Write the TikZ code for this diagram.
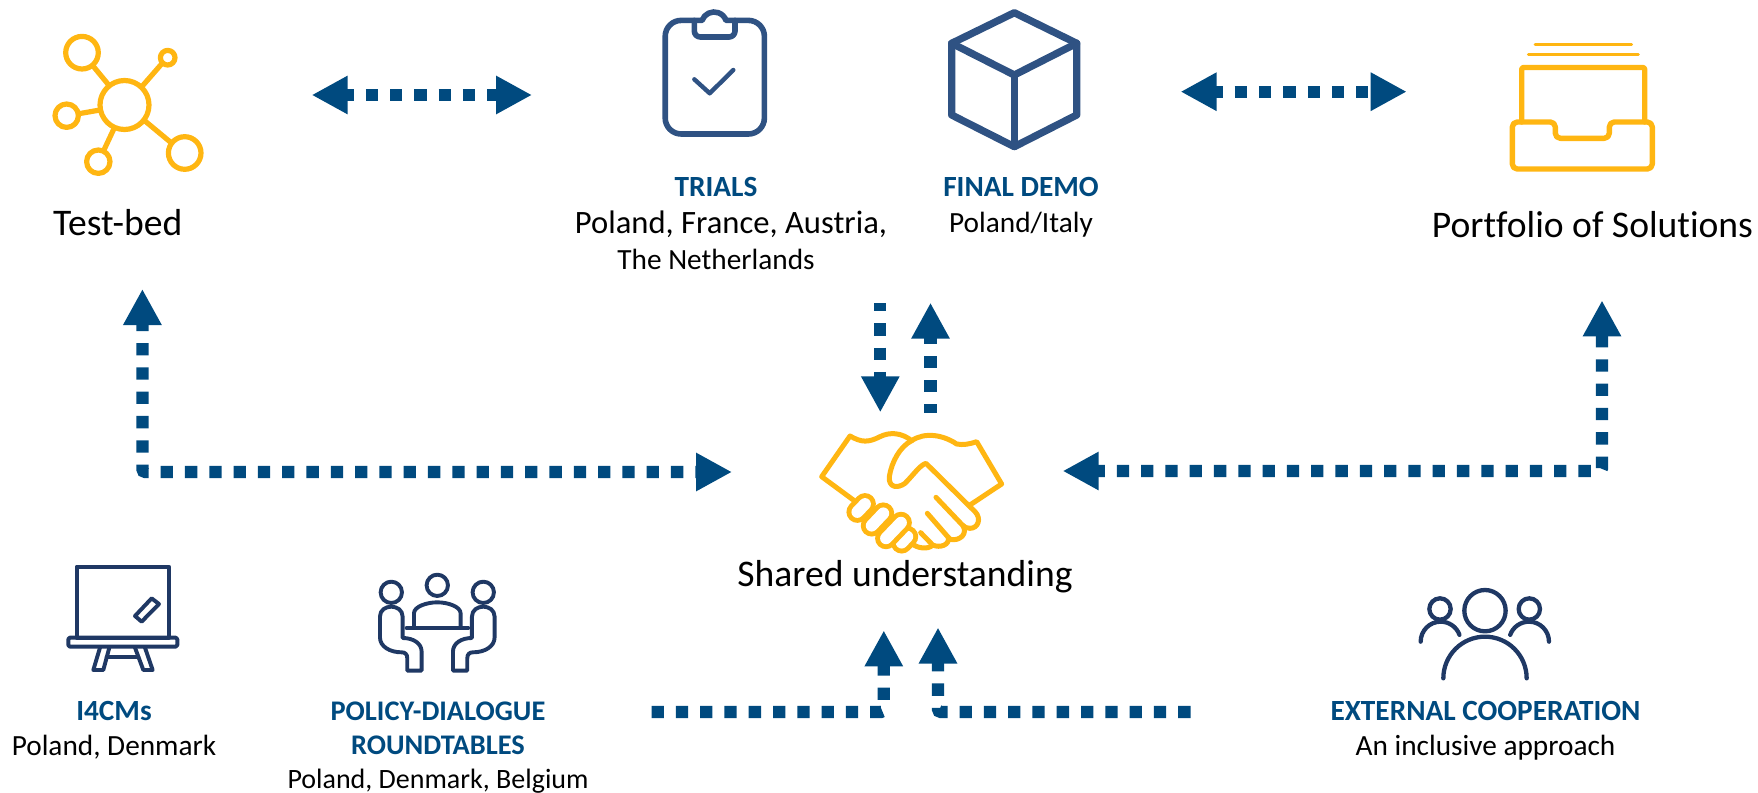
\documentclass[tikz,border=0pt]{standalone}
\usepackage{fontspec}
\setmainfont{Carlito}[Ligatures=CommonOff]
\usetikzlibrary{arrows.meta}
\definecolor{flow}{HTML}{004A7F}
\definecolor{gold}{HTML}{FFB612}
\definecolor{slate}{HTML}{2F5283}
\definecolor{navy}{HTML}{1F3864}
\tikzset{
  x=1bp,y=-1bp,
  flowline/.style={draw=flow,line width=12.3bp,dash pattern=on 12.3bp off 12bp,dash phase=4bp,rounded corners=3bp},
  flowplain/.style={draw=flow,line width=12.3bp,dash pattern=on 12.3bp off 12bp,rounded corners=3bp},
  bigtip/.tip={Triangle[length=36bp,width=36bp,color=flow]},
  icongold/.style={draw=gold,line width=5.2bp,line join=round,line cap=round},
  iconslate/.style={draw=slate,line width=5.6bp,line join=round,line cap=round},
  iconnavy/.style={draw=navy,line width=3.9bp,line join=round,line cap=round},
  zoomed/.style={x=0.3333bp,y=-0.3333bp},
  lab/.style={inner sep=0pt,align=center,anchor=north,font=\fontsize{29.3bp}{36bp}\selectfont},
  labtight/.style={inner sep=0pt,align=center,anchor=north,font=\fontsize{28.4bp}{34bp}\selectfont},
  lablow/.style={inner sep=0pt,align=center,anchor=north,font=\fontsize{29.3bp}{35bp}\selectfont},
  biglab/.style={inner sep=0pt,anchor=center,font=\fontsize{37.6bp}{43bp}\selectfont},
}
\newcommand{\headline}[1]{\textcolor{flow}{\textbf{#1}}}
\begin{document}
\begin{tikzpicture}
\useasboundingbox (0,0) rectangle (1758,793);
% --- connector ends
\coordinate (a1) at (311.7,95);   \coordinate (a2) at (532,95);
\coordinate (b1) at (1180.6,91.7);\coordinate (b2) at (1406.7,91.7);
\coordinate (c1) at (142.4,289);  \coordinate (c2) at (142.4,472); \coordinate (c3) at (732,472);
\coordinate (d1) at (1062.7,471); \coordinate (d2) at (1602,471);  \coordinate (d3) at (1602,300.4);
\coordinate (e1) at (880.3,303);  \coordinate (e2) at (880.3,412.3);
\coordinate (f1) at (930.5,412.5);\coordinate (f2) at (930.5,302.7);
\coordinate (g1) at (651.5,712);  \coordinate (g2) at (883.8,712); \coordinate (g3) at (883.8,630.4);
\coordinate (h1) at (1190.5,712); \coordinate (h2) at (938,712);   \coordinate (h3) at (938,627.5);
% --- connectors
\draw[flowline,{bigtip}-{bigtip}] (a1) -- (a2);
\draw[flowline,{bigtip}-{bigtip}] (b1) -- (b2);
\draw[flowline,{bigtip}-{bigtip}] (c1) -- (c2) -- (c3);
\draw[flowline,{bigtip}-{bigtip}] (d1) -- (d2) -- (d3);
\draw[flowline,-{bigtip}] (e1) -- (e2);
\draw[flowline,-{bigtip}] (f1) -- (f2);
\draw[flowplain,-{bigtip}] (g1) -- (g2) -- (g3);
\draw[flowplain,-{bigtip}] (h1) -- (h2) -- (h3);
% --- network icon
\begin{scope}[icongold]
\draw (124.5,105) circle (24.5);
\draw (82,52.7) circle (16.3);
\draw (167.7,57.7) circle (7.3);
\draw (66.7,115.7) circle (11.7);
\draw (98.3,161.7) circle (11.7);
\draw (184.7,153) circle (16.3);
\draw[line cap=butt] (92.5,65.3) -- (108.7,85);
\draw[line cap=butt] (162,63.5) -- (141.5,87);
\draw[line cap=butt] (78.3,113.8) -- (100,110);
\draw[line cap=butt] (103.5,151) -- (114.5,127.5);
\draw[line cap=butt] (171.5,143) -- (145,121);
\end{scope}
% --- clipboard
\begin{scope}[iconslate]
\draw (665.2,36.4) arc[start angle=180,end angle=270,radius=16] -- (702,20.4) arc[start angle=200,end angle=340,radius=12.8] -- (748.4,20.4) arc[start angle=270,end angle=360,radius=16] -- (764.4,118) arc[start angle=0,end angle=90,radius=16] -- (681.2,134) arc[start angle=90,end angle=180,radius=16] -- cycle;
\draw (694.3,20.4) -- (694.3,31) arc[start angle=180,end angle=90,radius=6] -- (729,37) arc[start angle=90,end angle=0,radius=6] -- (735,20.4);
\draw[line width=4.4bp] (694.3,79.3) -- (709.7,93.3) -- (733.3,70);
\end{scope}
% --- cube
\begin{scope}[iconslate,line width=7.3bp]
\draw (1014.3,12.7) -- (1076.7,43.3) -- (1076.7,115) -- (1014.3,146.7) -- (951.7,115) -- (951.7,43.3) -- cycle;
\draw (951.7,43.3) -- (1014.3,75) -- (1076.7,43.3);
\draw (1014.3,75) -- (1014.3,146.7);
\end{scope}
% --- tray
\begin{scope}[icongold,line width=5.4bp]
\draw[line width=3bp] (1535,45) -- (1631.7,45);
\draw[line width=3bp] (1528.3,55) -- (1638.3,55);
\draw[rounded corners=2bp] (1521.7,122) -- (1521.7,67.5) -- (1644.7,67.5) -- (1644.7,122);
\draw[rounded corners=5bp] (1512.3,122) -- (1555.3,122) -- (1555.3,138.3) -- (1609.3,138.3) -- (1609.3,122) -- (1652.3,122) -- (1652.3,169) -- (1512.3,169) -- cycle;
\end{scope}
% --- handshake
\begin{scope}[shift={(800,420)},zoomed,icongold,line width=5bp]
\draw (160,240) -- (65,170) -- (150,48) .. controls (185,68) and (205,68) .. (240,50) .. controls (270,35) and (305,38) .. (335,62);
\draw (335,62) .. controls (300,80) and (275,125) .. (268,170) .. controls (265,205) and (295,205) .. (315,190) .. controls (340,165) and (360,135) .. (378,130) -- (525,275) .. controls (545,295) and (535,325) .. (510,325) .. controls (500,325) and (495,322) .. (488,316);
\draw (335,62) .. controls (375,35) and (430,45) .. (470,72) .. controls (490,76) and (510,72) .. (530,65) -- (605,192) -- (510,255);
\draw (408,232) -- (488,316) .. controls (505,340) and (480,365) .. (450,358) -- (382,280);
\draw (445,352) .. controls (450,375) and (420,385) .. (398,375) -- (362,338);
\draw (398,375) .. controls (385,390) and (350,385) .. (335,370);
\foreach \xa/\ya/\xb/\yb in {305/368/322/350,258/355/303/308,215/317/250/280,172/276/195/252} {
  \draw[line width=21.8bp] (\xa,\ya) -- (\xb,\yb);
  \draw[draw=white,line width=11.8bp] (\xa,\ya) -- (\xb,\yb);
}
\end{scope}
% --- board and roundtable
\begin{scope}[shift={(50,550)},zoomed,iconnavy]
\draw (80,50) rectangle (357,263);
\draw[rounded corners=1.5bp] (55,263) rectangle (382,290);
\draw (150,293) -- (130,360) -- (160,360) -- (178,293);
\draw (255,293) -- (280,360) -- (308,360) -- (285,293);
\draw (170,322) -- (265,322);
\draw (255,198) -- (305,145) -- (327,162) -- (275,215) -- cycle;
\draw (1024,127) circle[radius=32];
\draw (1162,106) circle[radius=32];
\draw (1300,127) circle[radius=32];
\draw (1092,232) -- (1092,190) .. controls (1092,170) and (1130,157) .. (1162,157) .. controls (1194,157) and (1232,170) .. (1232,190) -- (1232,232);
\draw (1070,234) -- (1255,234);
\draw (1058,264) -- (1058,200) .. controls (1058,160) and (990,160) .. (990,200) -- (990,262) .. controls (990,290) and (1020,307) .. (1055,307) .. controls (1065,307) and (1072,312) .. (1072,325) -- (1072,362) -- (1115,362) -- (1115,305) .. controls (1115,280) and (1090,264) .. (1058,264);
\draw (1266,264) -- (1266,200) .. controls (1266,160) and (1334,160) .. (1334,200) -- (1334,262) .. controls (1334,290) and (1304,307) .. (1269,307) .. controls (1259,307) and (1252,312) .. (1252,325) -- (1252,362) -- (1209,362) -- (1209,305) .. controls (1209,280) and (1234,264) .. (1266,264);
\end{scope}
% --- people
\begin{scope}[shift={(1400,575)},zoomed,iconnavy,line width=4.3bp]
\draw (255,107) circle[radius=62];
\draw (120,102) circle[radius=32];
\draw (388,102) circle[radius=32];
\draw (130,310) arc[start angle=180,end angle=360,radius=125];
\draw (62,200) arc[start angle=180,end angle=340,radius=60];
\draw (447,200) arc[start angle=360,end angle=200,radius=60];
\end{scope}
% --- labels
\node[biglab] (testbed) at (117.7,222.5) {Test-bed};
\node[biglab] (portfolio) at (1592.5,225) {Portfolio of Solutions};
\node[biglab] (shared) at (905,577) {Shared understanding};
\node[lab] (trials) at (716,177.5) {\headline{TRIALS}};
\node[lab,font=\fontsize{32.6bp}{36bp}\selectfont] (trialsplaces) at (731,210.5) {Poland, France, Austria,};
\node[lab] (trialsnl) at (716,248.5) {The Netherlands};
\node[lab] (demo) at (1021,177.5) {\headline{FINAL DEMO}\\Poland/Italy};
\node[lablow] (i4) at (114,701) {\headline{I4CMs}\\Poland, Denmark};
\node[labtight] (policy) at (438,701.5) {\headline{POLICY-DIALOGUE}\\\headline{ROUNDTABLES}\\\fontsize{28bp}{34bp}\selectfont Poland, Denmark, Belgium};
\node[lablow] (ext) at (1485.5,701) {\headline{EXTERNAL COOPERATION}\\An inclusive approach};
\end{tikzpicture}
\end{document}
